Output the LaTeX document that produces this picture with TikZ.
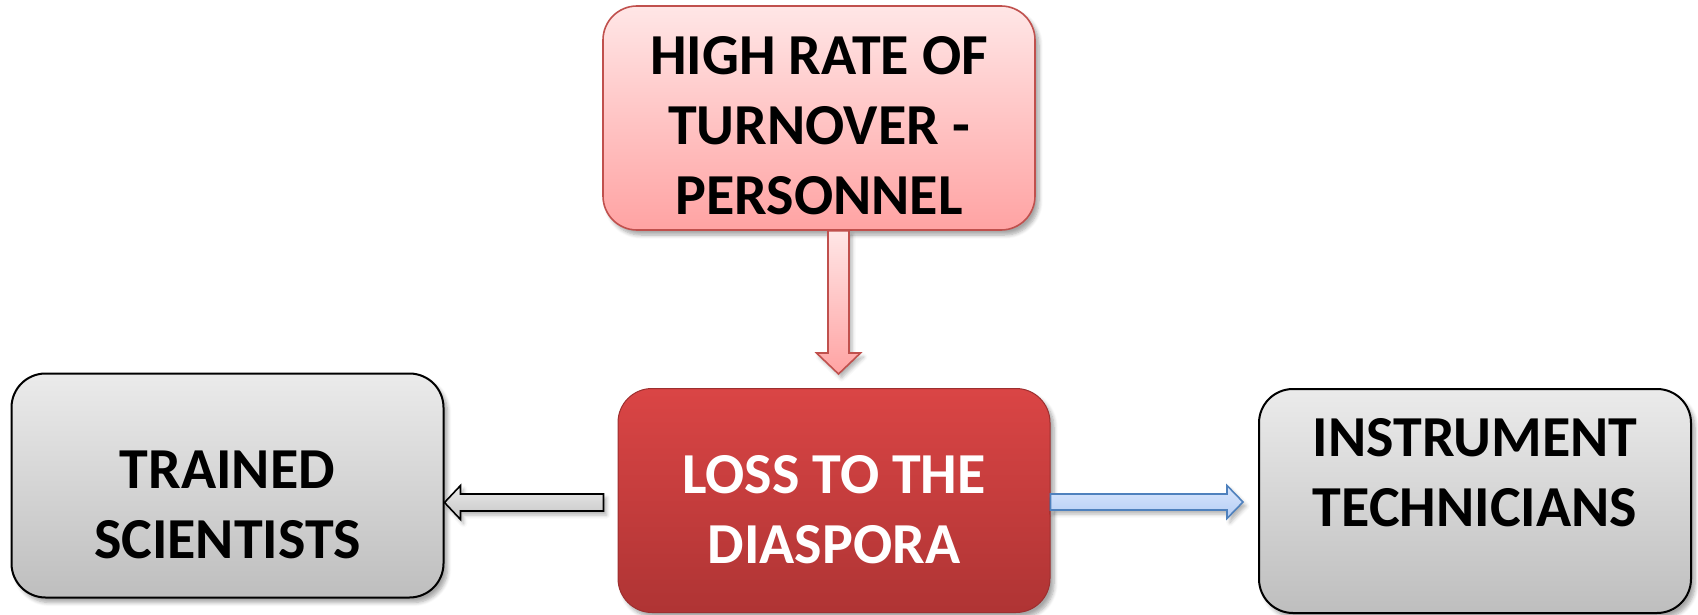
\documentclass[tikz,border=0pt]{standalone}
\usepackage{fontspec}
\setmainfont{Carlito}
\usetikzlibrary{calc,shadows.blur}
\usepackage{xcolor}
\definecolor{hightop}{HTML}{FFE6E6}
\definecolor{highbot}{HTML}{FFA3A3}
\definecolor{highline}{HTML}{C0504D}
\definecolor{losstop}{HTML}{DA4545}
\definecolor{lossbot}{HTML}{AF3434}
\definecolor{greytop}{HTML}{EBEBEB}
\definecolor{greybot}{HTML}{BEBEBE}
\definecolor{bluetop}{HTML}{D9E6FC}
\definecolor{bluebot}{HTML}{B4CDF5}
\definecolor{blueline}{HTML}{4F81BD}

\begin{document}
\begin{tikzpicture}[x=0.5pt,y=-0.5pt]
    \tikzset{box/.style = {rounded corners=17pt, minimum width=216pt, minimum height=112pt,
        inner sep=0pt, blur shadow={shadow xshift=2pt, shadow yshift=-2.5pt,
        shadow blur steps=6, shadow opacity=35}}}
    \tikzset{highbox/.style = {box, draw=highline, line width=0.8pt, top color=hightop, bottom color=highbot}}
    \tikzset{lossbox/.style = {box, draw=lossbot!90!black, line width=0.5pt, top color=losstop, bottom color=lossbot}}
    \tikzset{greybox/.style = {box, draw=black, line width=1pt, top color=greytop, bottom color=greybot}}
    \tikzset{txt/.style = {align=center, inner sep=0pt, font=\fontsize{29}{35}\selectfont\bfseries}}
    \tikzset{arr/.style = {line width=0.8pt, line join=miter, blur shadow={shadow xshift=1.5pt,
        shadow yshift=-2pt, shadow blur steps=4, shadow opacity=30}}}
    \useasboundingbox (0,0) rectangle (1698,615);
    % boxes
    \node[highbox] (high) at (819,118) {};
    \node[lossbox] (loss) at (834,500.5) {};
    \node[greybox] (trained) at (227.5,485.5) {};
    \node[greybox] (instr) at (1475,501) {};
    % texts
    \node[txt] (high-t) at (819,125.5) {HIGH RATE OF\\TURNOVER -\\PERSONNEL};
    \node[txt, text=white] (loss-t) at (834,509.5) {LOSS TO THE\\DIASPORA};
    \node[txt] (trained-t) at (227.5,505) {TRAINED\\SCIENTISTS};
    \node[txt] (instr-t) at (1475,473) {INSTRUMENT\\TECHNICIANS};

    %arrows
    \coordinate (d1) at (838.5,0 |- high.south);
    \coordinate (d2) at ($(838.5,0 |- loss.north)+(0,-14)$);
    \draw[arr, draw=highline, top color=hightop, bottom color=highbot]
        ($(d1)+(-10.5,0)$) -- ($(d2)+(-10.5,-21)$) -- ($(d2)+(-22,-21)$) -- (d2)
        -- ($(d2)+(22,-21)$) -- ($(d2)+(10.5,-21)$) -- ($(d1)+(10.5,0)$) -- cycle;
    \coordinate (l1) at ($(loss.west |- 0,502.5)+(-14,0)$);
    \coordinate (l2) at (trained.east |- 0,502.5);
    \draw[arr, draw=black, top color=greytop, bottom color=greybot!90!white]
        ($(l1)+(0,-8.5)$) -- ($(l2)+(16,-8.5)$) -- ($(l2)+(16,-17)$) -- (l2)
        -- ($(l2)+(16,17)$) -- ($(l2)+(16,8.5)$) -- ($(l1)+(0,8.5)$) -- cycle;
    \coordinate (r1) at (loss.east |- 0,502);
    \coordinate (r2) at ($(instr.west |- 0,502)+(-15,0)$);
    \draw[arr, draw=blueline, top color=bluetop, bottom color=bluebot]
        ($(r1)+(0,-8)$) -- ($(r2)+(-16,-8)$) -- ($(r2)+(-16,-16.5)$) -- (r2)
        -- ($(r2)+(-16,16.5)$) -- ($(r2)+(-16,8)$) -- ($(r1)+(0,8)$) -- cycle;
\end{tikzpicture}
\end{document}
